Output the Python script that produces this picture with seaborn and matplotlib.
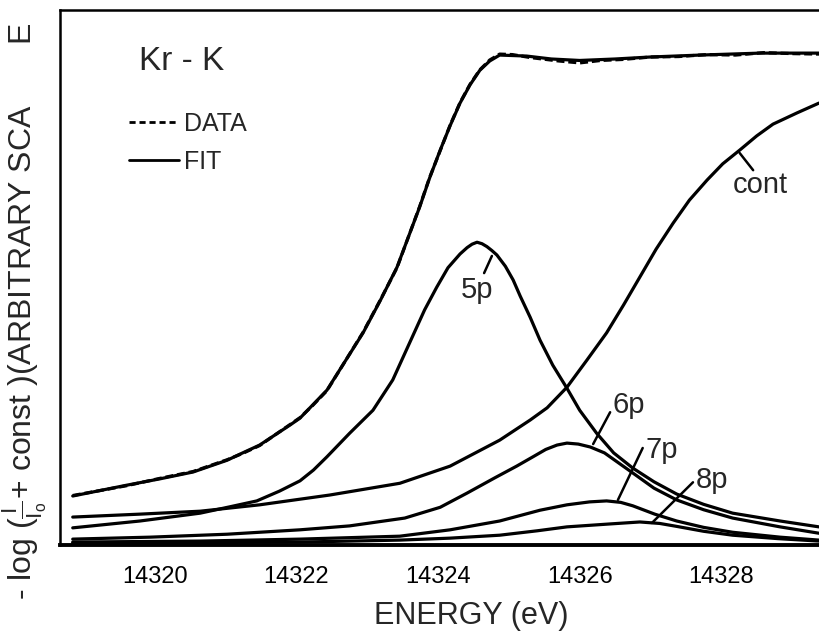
import matplotlib
matplotlib.use("Agg")
import matplotlib.pyplot as plt
import seaborn as sns
import pandas as pd
from matplotlib import font_manager
from matplotlib.lines import Line2D

# ---------------- data ----------------
energy_total = [14318.84, 14319.60, 14320.07, 14320.54, 14321.02, 14321.24, 14321.48,
                14321.91, 14322.05, 14322.23, 14322.43, 14322.94, 14323.18, 14323.42,
                14323.74, 14323.88, 14324.03, 14324.17, 14324.31, 14324.45, 14324.59,
                14324.73, 14324.87, 14325.25, 14325.60, 14326.00, 14326.50, 14326.99,
                14327.70, 14328.55, 14329.38]
total_fit = [0.096, 0.118, 0.131, 0.145, 0.169, 0.184, 0.200,
             0.241, 0.255, 0.282, 0.312, 0.429, 0.494, 0.563,
             0.686, 0.745, 0.802, 0.852, 0.898, 0.935, 0.965,
             0.984, 0.996, 0.994, 0.988, 0.985, 0.988, 0.992,
             0.996, 1.000, 1.000]

energy_data = [14318.84, 14319.60, 14320.07, 14320.54, 14321.02, 14321.24, 14321.48,
               14321.91, 14322.05, 14322.23, 14322.43, 14322.94, 14323.18, 14323.42,
               14323.74, 14323.88, 14324.03, 14324.17, 14324.31, 14324.45, 14324.59,
               14324.73, 14324.87, 14325.05, 14325.30, 14325.70, 14326.00, 14326.30,
               14326.60, 14327.00, 14327.40, 14327.80, 14328.20, 14328.60, 14329.00,
               14329.38]
total_data = [0.097, 0.117, 0.132, 0.146, 0.170, 0.183, 0.199,
              0.242, 0.256, 0.281, 0.311, 0.430, 0.495, 0.562,
              0.687, 0.746, 0.801, 0.853, 0.899, 0.936, 0.966,
              0.986, 0.998, 0.997, 0.991, 0.984, 0.980, 0.985,
              0.987, 0.992, 0.993, 0.997, 0.996, 1.001, 0.999,
              0.998]

energy_5p = [14318.84, 14319.79, 14320.64, 14321.06, 14321.44, 14321.76, 14322.05,
             14322.24, 14322.43, 14322.75, 14323.08, 14323.36, 14323.64, 14323.81,
             14323.98, 14324.14, 14324.31, 14324.41, 14324.48, 14324.55, 14324.62,
             14324.69, 14324.76, 14324.83, 14324.95, 14325.06, 14325.16, 14325.30,
             14325.44, 14325.62, 14325.82, 14326.00, 14326.24, 14326.48, 14326.75,
             14327.05, 14327.37, 14327.75, 14328.16, 14328.83, 14329.38]
peak_5p = [0.031, 0.045, 0.061, 0.074, 0.086, 0.106, 0.127,
           0.149, 0.176, 0.224, 0.271, 0.333, 0.422, 0.476,
           0.522, 0.562, 0.590, 0.603, 0.610, 0.614, 0.611,
           0.605, 0.597, 0.588, 0.565, 0.537, 0.504, 0.461,
           0.414, 0.363, 0.316, 0.271, 0.224, 0.184, 0.153,
           0.125, 0.100, 0.079, 0.061, 0.045, 0.033]

energy_cont = [14318.84, 14319.79, 14320.64, 14321.48, 14322.47, 14323.46, 14324.17,
               14324.87, 14325.30, 14325.54, 14325.82, 14326.10, 14326.38, 14326.62,
               14326.85, 14327.08, 14327.32, 14327.55, 14327.80, 14328.02, 14328.26,
               14328.50, 14328.73, 14329.07, 14329.38]
step_cont = [0.053, 0.059, 0.065, 0.078, 0.098, 0.122, 0.157,
             0.210, 0.251, 0.276, 0.318, 0.373, 0.429, 0.486,
             0.543, 0.600, 0.653, 0.700, 0.741, 0.774, 0.802,
             0.831, 0.855, 0.878, 0.898]

energy_6p = [14318.84, 14319.93, 14321.02, 14322.05, 14322.75, 14323.53, 14324.03,
             14324.41, 14324.80, 14325.11, 14325.34, 14325.52, 14325.68, 14325.82,
             14325.98, 14326.15, 14326.35, 14326.75, 14327.05, 14327.37, 14327.75,
             14328.16, 14328.83, 14329.38]
peak_6p = [0.008, 0.012, 0.018, 0.027, 0.035, 0.051, 0.073,
           0.102, 0.133, 0.157, 0.176, 0.191, 0.200, 0.204,
           0.202, 0.196, 0.184, 0.143, 0.112, 0.088, 0.068,
           0.051, 0.033, 0.020]

energy_7p = [14318.84, 14320.64, 14322.05, 14323.46, 14324.17, 14324.87, 14325.44,
             14325.82, 14326.14, 14326.38, 14326.58, 14326.75, 14327.06, 14327.37,
             14327.75, 14328.16, 14328.83, 14329.38]
peak_7p = [0.002, 0.004, 0.008, 0.014, 0.027, 0.045, 0.067,
           0.078, 0.084, 0.086, 0.083, 0.076, 0.059, 0.045,
           0.032, 0.022, 0.012, 0.006]

energy_8p = [14318.84, 14322.05, 14323.46, 14324.17, 14324.87, 14325.40, 14325.82,
             14326.43, 14326.85, 14327.13, 14327.37, 14327.75, 14328.16, 14328.80,
             14329.38]
peak_8p = [0.000, 0.002, 0.006, 0.010, 0.016, 0.025, 0.033,
           0.039, 0.043, 0.040, 0.034, 0.024, 0.016, 0.009,
           0.004]

xticks = [14320, 14322, 14324, 14326, 14328]
xtick_labels = ["14320", "14322", "14324", "14326", "14328"]

# ---------------- style ----------------
sns.set_style("white")
names = {f.name for f in font_manager.fontManager.ttflist}
base = "Liberation Sans" if "Liberation Sans" in names else "DejaVu Sans"
plt.rcParams["font.family"] = [base, "DejaVu Sans"]
plt.rcParams["mathtext.fontset"] = "custom"
plt.rcParams["mathtext.rm"] = base
plt.rcParams["mathtext.it"] = base

W, H = 819, 634
fig = plt.figure(figsize=(W / 100, H / 100), dpi=100)
fig.patch.set_facecolor("white")
ax = fig.add_axes([60 / W, 89 / H, 759 / W, 535 / H])
ax.set_facecolor("white")

LW = 2.3
series = [
    (energy_total, total_fit),
    (energy_5p, peak_5p),
    (energy_cont, step_cont),
    (energy_6p, peak_6p),
    (energy_7p, peak_7p),
    (energy_8p, peak_8p),
]
for ex, ey in series:
    df = pd.DataFrame({"E": ex, "y": ey})
    sns.lineplot(data=df, x="E", y="y", ax=ax, color="black", linewidth=LW,
                 estimator=None, sort=False, legend=False)

df_data = pd.DataFrame({"E": energy_data, "y": total_data})
sns.lineplot(data=df_data, x="E", y="y", ax=ax, color="black", linewidth=LW,
             linestyle=(0, (2.5, 1.2)), estimator=None, sort=False, legend=False)

ax.set_xlim(14318.66, 14329.38)
ax.set_ylim(-0.004, 1.088)

ax.set_xticks(xticks)
ax.set_xticklabels(xtick_labels, fontsize=17)
ax.set_yticks([])
ax.tick_params(axis="x", direction="out", length=7, width=1.8, pad=8, colors="black")

for side in ["left", "top", "bottom"]:
    ax.spines[side].set_visible(True)
    ax.spines[side].set_color("black")
    ax.spines[side].set_linewidth(1.8)
ax.spines["bottom"].set_linewidth(2.8)
ax.spines["right"].set_visible(False)

ax.set_xlabel("ENERGY (eV)", fontsize=22, va="center")
ax.xaxis.set_label_coords((471 - 60) / 759, (545 - 616) / 535)
ax.set_ylabel(r"- log ($\frac{\mathrm{I}}{\mathrm{I_o}}$+ const )(ARBITRARY SCA       E",
              fontsize=23, va="center", ha="center")
ax.yaxis.set_label_coords((25 - 60) / 759, (545 - 311) / 535)

ax.text(14320.38, 0.982, "Kr - K", fontsize=24, ha="center", va="center")

handles = [Line2D([], [], color="black", lw=2.0, linestyle=(0, (2.2, 1.4))),
           Line2D([], [], color="black", lw=2.0, linestyle="-")]
ax.legend(handles, ["DATA", "FIT"], loc="upper left",
          bbox_to_anchor=((129 - 60) / 759, (545 - 112) / 535),
          frameon=False, fontsize=18, handlelength=2.0, handletextpad=0.2,
          labelspacing=0.55, borderpad=0, borderaxespad=0)

# component labels with leader lines
def label(txt, xy_text, xy_a, xy_b):
    ax.text(xy_text[0], xy_text[1], txt, fontsize=21, ha="center", va="center")
    ax.plot([xy_a[0], xy_b[0]], [xy_a[1], xy_b[1]], color="black", lw=1.8)

label("5p", (14324.55, 0.516), (14324.76, 0.586), (14324.65, 0.551))
label("cont", (14328.55, 0.731), (14328.26, 0.796), (14328.45, 0.761))
label("6p", (14326.69, 0.282), (14326.43, 0.267), (14326.19, 0.202))
label("7p", (14327.16, 0.190), (14326.89, 0.194), (14326.54, 0.088))
label("8p", (14327.87, 0.129), (14327.60, 0.124), (14327.02, 0.041))

fig.savefig("out.png", dpi=100, facecolor="white")
